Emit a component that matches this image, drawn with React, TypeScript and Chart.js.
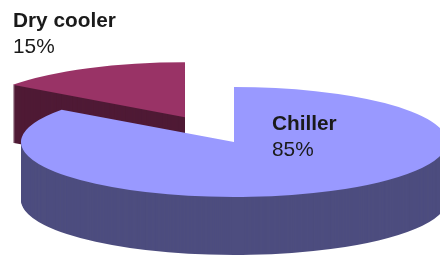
import React, { useEffect, useRef } from "react";
import { Chart, ArcElement, registerables } from "chart.js";

Chart.register(...registerables);

// ---- data ----
const categories = ["Chiller", "Dry cooler"];
const values = [85, 15];
const percentLabels = ["85%", "15%"];

// ---- styles ----
const topColors = ["#9999FF", "#993366"];
const sideColors = ["#4D4D7F", "#4F1A35"];
const RADIUS = 213;
const FLAT = 55 / 213; // vertical squash of the pie disc
const DEPTH = 58; // thickness of the 3D pie in px
const EXPLODE = [0, 108]; // explode distance per slice (disc units)
const LABEL_OFFSETS = [
  { dx: 38, dy: -12 }, // relative to pie centre (screen)
  { dx: -221, dy: -115 },
];
const FONT_SIZE = 20.8;
const LINE_GAP = 25.5;

const pie3d = {
  id: "pie3d",
  beforeDatasetsDraw(chart: any) {
    const ctx = chart.ctx as CanvasRenderingContext2D;
    const meta = chart.getDatasetMeta(0);
    const arcs = meta.data as any[];
    if (!arcs.length) return;
    const cx = arcs[0].x;
    const cy = arcs[0].y;
    const order = arcs.map((_: any, i: number) => i).reverse();
    for (const i of order) {
      const arc = arcs[i];
      const half = (arc.startAngle + arc.endAngle) / 2;
      const ex = Math.cos(half) * EXPLODE[i];
      const ey = Math.sin(half) * EXPLODE[i];
      const drawAt = (dy: number, color: string) => {
        ctx.save();
        ctx.translate(0, dy);
        ctx.translate(cx, cy);
        ctx.scale(1, FLAT);
        ctx.translate(-cx + ex, -cy + ey);
        const proxy = Object.create(arc);
        proxy.options = {
          ...arc.options,
          backgroundColor: color,
          borderWidth: 0,
          offset: 0,
        };
        (ArcElement.prototype as any).draw.call(proxy, ctx);
        ctx.restore();
      };
      for (let d = DEPTH; d > 0; d--) drawAt(d, sideColors[i]);
      drawAt(0, topColors[i]);
    }
    return false;
  },
  afterDraw(chart: any) {
    const ctx = chart.ctx as CanvasRenderingContext2D;
    const meta = chart.getDatasetMeta(0);
    const arcs = meta.data as any[];
    if (!arcs.length) return;
    const cx = arcs[0].x;
    const cy = arcs[0].y;
    ctx.save();
    ctx.fillStyle = "#1a1a1a";
    ctx.textAlign = "left";
    ctx.textBaseline = "alphabetic";
    categories.forEach((name, i) => {
      const x = cx + LABEL_OFFSETS[i].dx;
      const y = cy + LABEL_OFFSETS[i].dy;
      ctx.font = `bold ${FONT_SIZE}px "Liberation Sans", Arial, sans-serif`;
      ctx.fillText(name, x, y);
      ctx.font = `${FONT_SIZE}px "Liberation Sans", Arial, sans-serif`;
      ctx.fillText(percentLabels[i], x, y + LINE_GAP);
    });
    ctx.restore();
  },
};

export default function App() {
  const ref = useRef<HTMLCanvasElement | null>(null);
  useEffect(() => {
    if (!ref.current) return;
    const chart = new Chart(ref.current, {
      type: "pie",
      data: {
        labels: categories,
        datasets: [
          {
            data: values,
            backgroundColor: topColors,
            borderWidth: 0,
            radius: RADIUS,
            clip: false,
          } as any,
        ],
      },
      options: {
        animation: false,
        responsive: false,
        devicePixelRatio: 1,
        layout: { padding: { left: 28, top: 27, right: 0, bottom: 0 } },
        plugins: {
          legend: { display: false },
          tooltip: { enabled: false },
        },
        events: [],
      },
      plugins: [pie3d],
    });
    return () => chart.destroy();
  }, []);
  return (
    <div style={{ position: "absolute", left: 0, top: 0, width: 440, height: 257, background: "#fff" }}>
      <canvas ref={ref} width={440} height={257} style={{ display: "block" }} />
    </div>
  );
}
